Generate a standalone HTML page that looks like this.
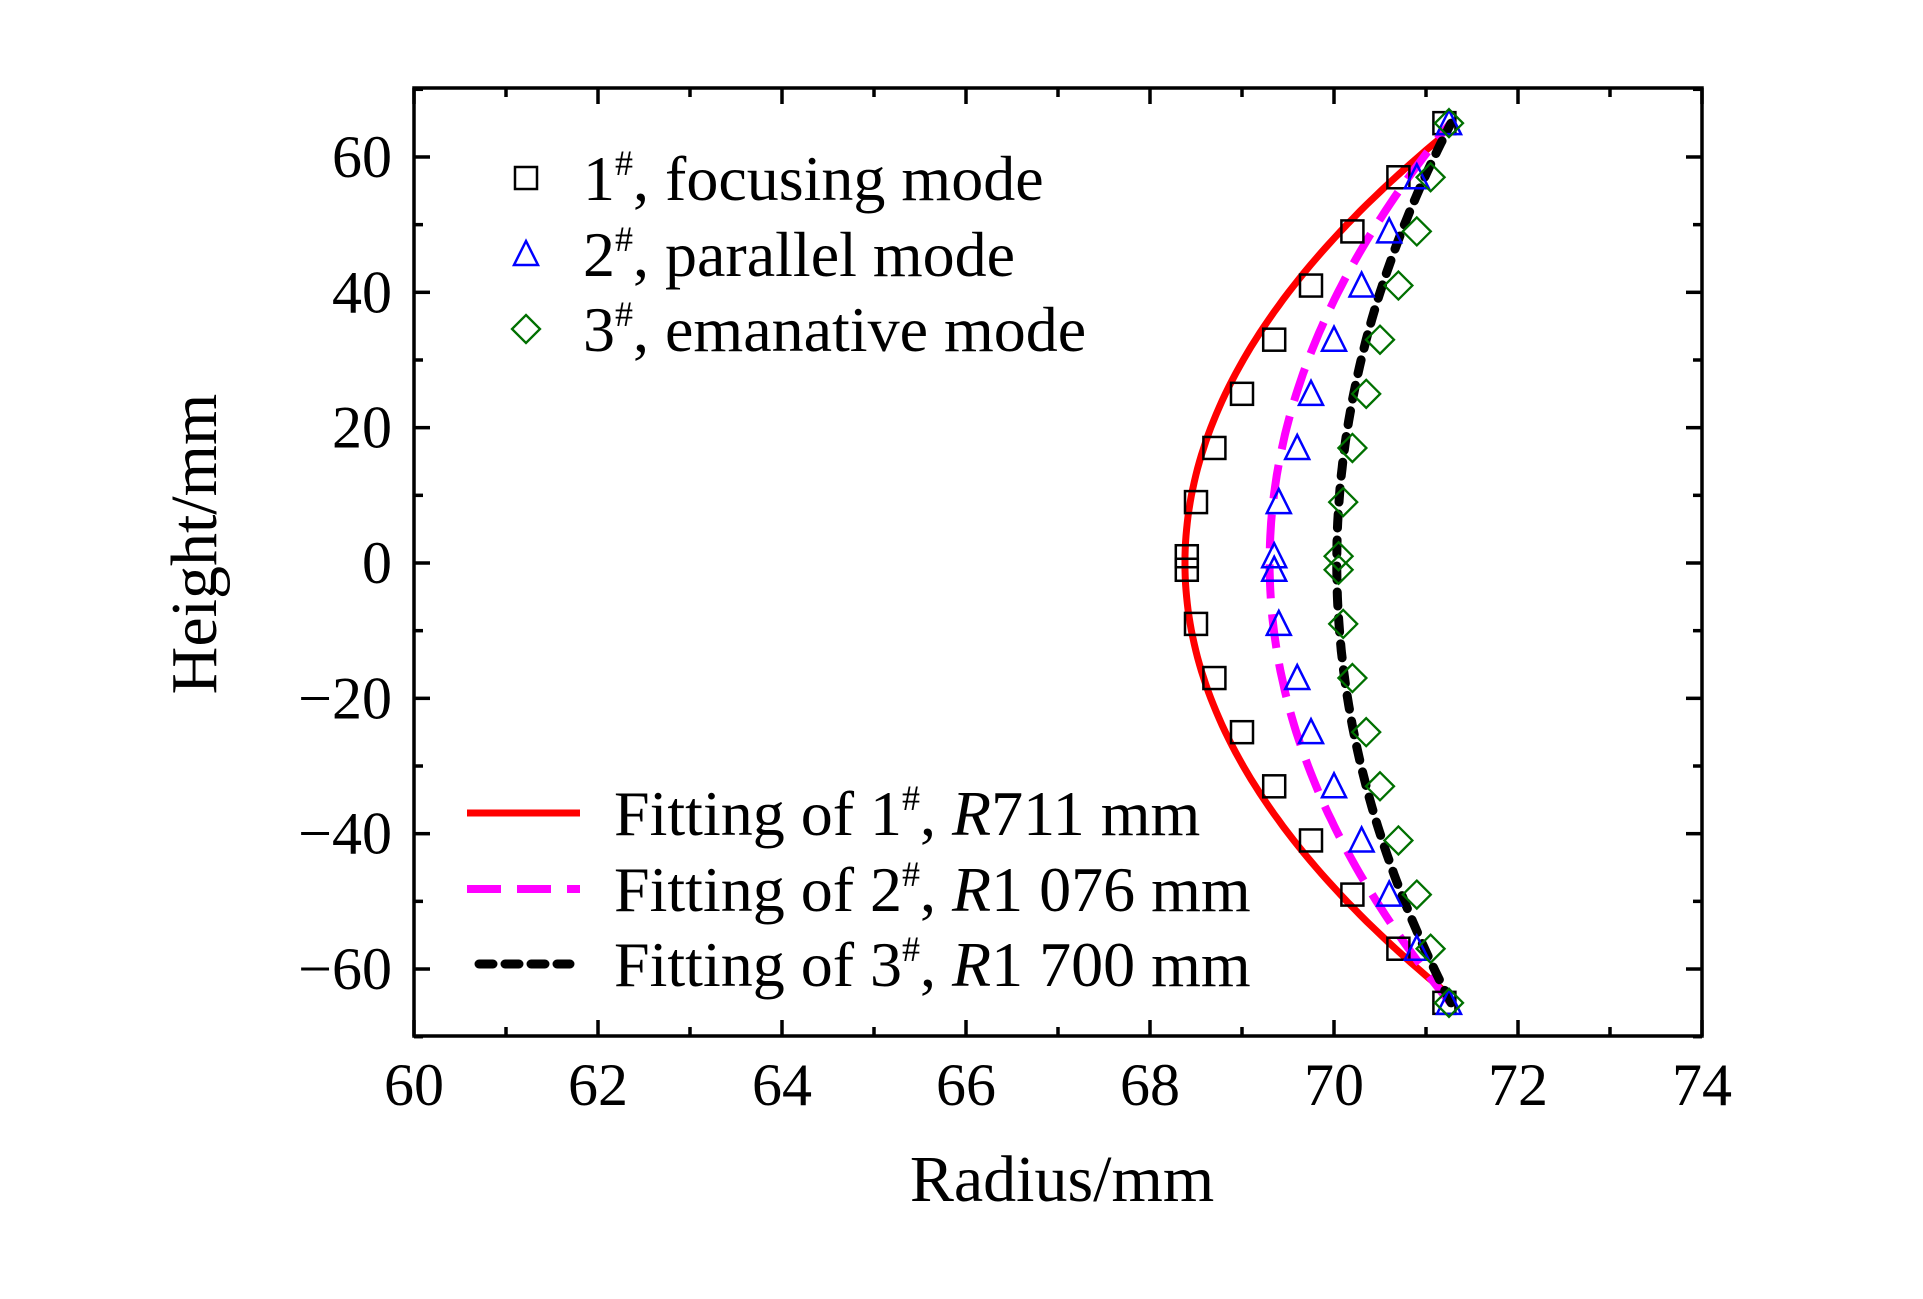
<!DOCTYPE html>
<html><head><meta charset="utf-8"><style>
body{margin:0;background:#fff}
svg{display:block}
text{font-family:"Liberation Serif",serif;fill:#000}
</style></head><body>
<svg id="chart" width="1923" height="1299" viewBox="0 0 1923 1299" xmlns="http://www.w3.org/2000/svg">
<g id="grid-layer"></g>
<g id="series-layer"></g>
<rect x="414" y="88" width="1288" height="948" fill="none" stroke="#000" stroke-width="3.5"/>
<text x="1062" y="1201" font-size="66" text-anchor="middle">Radius/mm</text>
<text transform="translate(216,544) rotate(-90)" font-size="66" text-anchor="middle">Height/mm</text>
<g id="legend-layer"></g>
</svg>
<script>
const heights = [65,57,49,41,33,25,17,9,1,-1,-9,-17,-25,-33,-41,-49,-57,-65];
const focusingX = [71.2,70.7,70.2,69.75,69.35,69.0,68.7,68.5,68.4,68.4,68.5,68.7,69.0,69.35,69.75,70.2,70.7,71.2];
const parallelX = [71.25,70.9,70.6,70.3,70.0,69.75,69.6,69.4,69.35,69.35,69.4,69.6,69.75,70.0,70.3,70.6,70.9,71.25];
const emanativeX = [71.25,71.05,70.9,70.7,70.5,70.35,70.2,70.1,70.05,70.05,70.1,70.2,70.35,70.5,70.7,70.9,71.05,71.25];
const fitRadii = [711,1076,1700];
const fitVertexX = [68.38,69.3,70.03];
const fitHalfHeight = [63,65,65];
const xTicks = [60,62,64,66,68,70,72,74];
const yTicks = [-60,-40,-20,0,20,40,60];
const legendPoints = ["1","2","3"];
const legendPointText = [", focusing mode",", parallel mode",", emanative mode"];
const legendFitR = ["711","1 076","1 700"];

const NS="http://www.w3.org/2000/svg";
const X0=414,X1=1702,Y0=88,Y1=1036;
function sx(v){return X0+(v-60)/(74-60)*(X1-X0);}
function sy(v){return 563-v*6.767;}
function mk(tag,attrs,parent){const e=document.createElementNS(NS,tag);for(const k in attrs)e.setAttribute(k,attrs[k]);parent.appendChild(e);return e;}
const grid=document.getElementById('grid-layer');
const ser=document.getElementById('series-layer');
const leg=document.getElementById('legend-layer');

for(let v=60;v<=74;v+=1){
  const major=v%2===0, L=major?16:9;
  const t1=mk('line',{x1:sx(v),x2:sx(v),y1:Y1,y2:Y1-L,stroke:'#000','stroke-width':3.5},grid);
  
  
  const t2=mk('line',{x1:sx(v),x2:sx(v),y1:Y0,y2:Y0+L,stroke:'#000','stroke-width':3.5},grid);
  
  
}
xTicks.forEach(v=>{
  const t=mk('text',{x:sx(v),y:1105,'font-size':60,'text-anchor':'middle'},grid);
  t.textContent=v;
  
  
});
for(let v=-70;v<=70;v+=10){
  const major=v%20===0, L=major?16:9;
  const a=mk('line',{x1:X0,x2:X0+L,y1:sy(v),y2:sy(v),stroke:'#000','stroke-width':3.5},grid);
  
  
  const b=mk('line',{x1:X1,x2:X1-L,y1:sy(v),y2:sy(v),stroke:'#000','stroke-width':3.5},grid);
  
  
}
yTicks.forEach(v=>{
  const t=mk('text',{x:392,y:sy(v)+20,'font-size':60,'text-anchor':'end'},grid);
  t.textContent=(v<0?'\u2212'+(-v):v);
  
  
});

const fitStyles=[{stroke:'#ff0000',w:7,dash:''},{stroke:'#ff00ff',w:8,dash:'34 16'},{stroke:'#000',w:9,dash:'14 12'}];
fitRadii.forEach((R,i)=>{
  let d='';
  const h=fitHalfHeight[i];
  for(let y=-h;y<=h;y+=1){
    const x=fitVertexX[i]+R-Math.sqrt(R*R-y*y);
    d+=(y===-h?'M':'L')+sx(x).toFixed(1)+','+sy(y).toFixed(1);
  }
  const p=mk('path',{d:d,fill:'none',stroke:fitStyles[i].stroke,'stroke-width':fitStyles[i].w,'stroke-dasharray':fitStyles[i].dash,'stroke-linecap':i===2?'round':'butt'},ser);
  
  
});

function square(x,y,par,name){const e=mk('rect',{x:x-11,y:y-11,width:22,height:22,fill:'none',stroke:'#000','stroke-width':2.5},par);}
function tri(x,y,par,name){const e=mk('polygon',{points:`${x},${y-13} ${x-12},${y+11} ${x+12},${y+11}`,fill:'none',stroke:'#0000ff','stroke-width':2.5},par);}
function dia(x,y,par,name){const e=mk('polygon',{points:`${x},${y-14} ${x+14},${y} ${x},${y+14} ${x-14},${y}`,fill:'none',stroke:'#007000','stroke-width':2.3},par);}
heights.forEach((h,i)=>{
  square(sx(focusingX[i]),sy(h),ser,'point-focusing');
  tri(sx(parallelX[i]),sy(h),ser,'point-parallel');
  dia(sx(emanativeX[i]),sy(h),ser,'point-emanative');
});

const ptY=[178,254,329], markers=[square,tri,dia];
legendPoints.forEach((n,i)=>{
  markers[i](526,ptY[i],leg,'legend-marker-'+(i+1));
  const t=mk('text',{x:583,y:ptY[i]+22,'font-size':64},leg);
  t.innerHTML=n+'<tspan font-size="36" dy="-25">#</tspan><tspan dy="25">'+legendPointText[i]+'</tspan>';
  
  
});
const fitY=[813,889,964];
fitY.forEach((y,i)=>{
  const l=mk('line',{x1:i===2?479:467,x2:i===2?570:580,y1:y,y2:y,stroke:fitStyles[i].stroke,'stroke-width':fitStyles[i].w,'stroke-dasharray':i===0?'':(i===1?'34 16':'14 12'),'stroke-linecap':i===2?'round':'butt'},leg);
  
  
  const t=mk('text',{x:614,y:y+22,'font-size':64},leg);
  t.innerHTML='Fitting of '+(i+1)+'<tspan font-size="36" dy="-25">#</tspan><tspan dy="25">, </tspan><tspan font-style="italic">R</tspan>'+legendFitR[i]+' mm';
  
  
});
</script>
</body></html>
